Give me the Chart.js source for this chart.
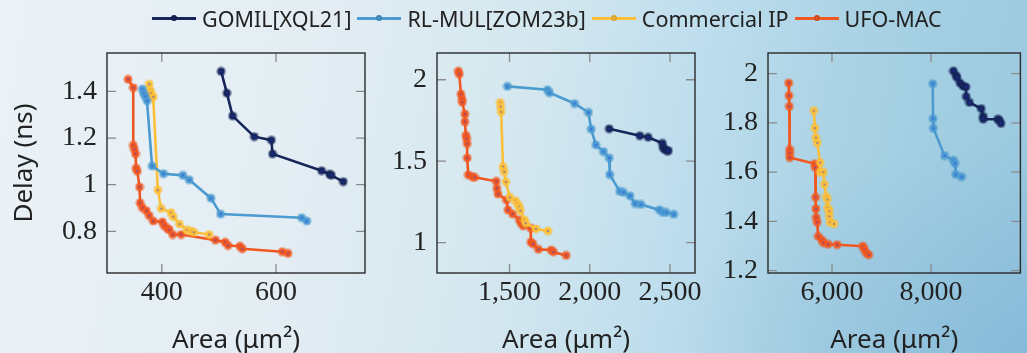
<!DOCTYPE html>
<html lang="en">
<head>
  <meta charset="UTF-8" />
  <title>Area vs Delay</title>
  <script src="https://cdn.jsdelivr.net/npm/chart.js"></script>
  <style>
    html, body {
      margin: 0;
      padding: 0;
    }
    body {
      width: 1027px;
      height: 353px;
      position: relative;
      overflow: hidden;
      background:
        radial-gradient(ellipse 360px 220px at 1027px 353px, rgba(100,160,205,0.35), rgba(100,160,205,0) 100%),
        linear-gradient(100deg, #eaf2f7 0%, #e3edf3 30%, #d4e7ef 50%, #bddded 66%, #a9d2e4 80%, #98c8df 100%);
      font-family: "Noto Sans", sans-serif;
    }
    canvas {
      position: absolute;
      top: 0;
    }
    #c1 { left: 0; }
    #c2 { left: 380px; }
    #c3 { left: 710px; }
    .legend {
      position: absolute;
      top: 4px;
      left: 152px;
      display: flex;
      align-items: center;
      font-size: 21.5px;
      color: #222;
      z-index: 2;
      white-space: nowrap;
    }
    .item {
      display: flex;
      align-items: center;
      margin-right: 6px;
    }
    .swatch {
      position: relative;
      width: 44px;
      height: 2.5px;
      margin-right: 6px;
    }
    .swatch::after {
      content: "";
      position: absolute;
      left: 19px;
      top: -2.5px;
      width: 6px;
      height: 6px;
      border-radius: 50%;
      background: inherit;
      box-shadow: inset 0 0 0 2px rgba(0,0,0,0.15);
    }
  </style>
</head>
<body>
  <div class="legend">
    <div class="item"><span class="swatch" style="background:#16255a"></span>GOMIL[XQL21]</div>
    <div class="item"><span class="swatch" style="background:#4b9ad0"></span>RL-MUL[ZOM23b]</div>
    <div class="item"><span class="swatch" style="background:#fbbf3a"></span>Commercial IP</div>
    <div class="item"><span class="swatch" style="background:#f05822"></span>UFO-MAC</div>
  </div>

  <canvas id="c1" width="380" height="353"></canvas>
  <canvas id="c2" width="330" height="353"></canvas>
  <canvas id="c3" width="317" height="353"></canvas>

  <script>
    const seriesNames = ['GOMIL[XQL21]', 'RL-MUL[ZOM23b]', 'Commercial IP', 'UFO-MAC'];
    const seriesColors = ['#16255a', '#4b9ad0', '#fbbf3a', '#f05822'];

    // panel 1: [area, delay]
    const gomil1 = [[504,1.486],[514,1.393],[524,1.295],[562,1.206],[592,1.191],[594,1.132],[680,1.06],[694,1.045],[697,1.04],[718,1.013]];
    const rlmul1 = [[366,1.41],[368,1.393],[371,1.379],[374,1.36],[383,1.08],[403,1.047],[437,1.04],[448,1.021],[486,0.942],[503,0.874],[645,0.858],[654,0.844]];
    const comm1 = [[378,1.431],[380,1.404],[381,1.393],[385,1.377],[393,0.977],[399,0.898],[416,0.88],[420,0.863],[431,0.831],[444,0.806],[451,0.8],[456,0.796],[483,0.786]];
    const ufo1 = [[341,1.452],[350,1.416],[350,1.169],[352,1.152],[354,1.132],[355,1.071],[357,1.058],[361,0.99],[362,0.922],[366,0.901],[373,0.888],[378,0.867],[385,0.844],[401,0.84],[404,0.824],[410,0.812],[413,0.806],[419,0.786],[434,0.786],[494,0.762],[511,0.753],[516,0.739],[537,0.736],[541,0.725],[611,0.712],[621,0.705]];

    // panel 2
    const gomil2 = [[2121,1.699],[2312,1.656],[2364,1.647],[2453,1.61],[2457,1.586],[2465,1.573],[2480,1.565],[2490,1.564]];
    const rlmul2 = [[1487,1.959],[1737,1.938],[1749,1.92],[1905,1.854],[1992,1.799],[2009,1.697],[2038,1.6],[2085,1.559],[2121,1.52],[2125,1.418],[2187,1.315],[2210,1.309],[2251,1.287],[2283,1.24],[2318,1.235],[2434,1.201],[2455,1.186],[2476,1.186],[2523,1.174]];
    const comm2 = [[1442,1.86],[1444,1.834],[1448,1.803],[1459,1.467],[1467,1.436],[1477,1.373],[1502,1.278],[1537,1.258],[1550,1.238],[1560,1.221],[1568,1.197],[1593,1.14],[1600,1.12],[1664,1.084],[1739,1.072]];
    const ufo2 = [[1181,2.053],[1187,2.034],[1197,1.912],[1204,1.881],[1205,1.862],[1222,1.789],[1222,1.742],[1228,1.658],[1232,1.639],[1236,1.608],[1236,1.52],[1243,1.416],[1267,1.406],[1282,1.401],[1417,1.377],[1421,1.334],[1428,1.299],[1481,1.262],[1490,1.201],[1519,1.176],[1562,1.14],[1571,1.121],[1585,1.103],[1631,1.09],[1633,1.004],[1646,0.992],[1680,0.959],[1760,0.955],[1774,0.943],[1853,0.922]];

    // panel 3
    const gomil3 = [[8450,2.011],[8503,1.993],[8523,1.984],[8583,1.962],[8643,1.95],[8702,1.946],[8709,1.907],[8774,1.883],[9012,1.858],[9052,1.826],[9052,1.815],[9344,1.815],[9378,1.81],[9410,1.798]];
    const rlmul3 = [[8033,1.959],[8039,1.817],[8046,1.778],[8271,1.667],[8450,1.648],[8483,1.635],[8496,1.591],[8615,1.581]];
    const comm3 = [[5634,1.85],[5654,1.779],[5674,1.74],[5702,1.719],[5762,1.639],[5762,1.6],[5827,1.6],[5847,1.55],[5887,1.501],[5907,1.489],[5913,1.455],[5946,1.441],[5946,1.42],[5960,1.396],[6040,1.39]];
    const ufo3 = [[5126,1.962],[5132,1.911],[5138,1.867],[5146,1.692],[5146,1.677],[5146,1.659],[5654,1.634],[5662,1.619],[5668,1.498],[5674,1.451],[5682,1.415],[5702,1.396],[5722,1.339],[5793,1.325],[5827,1.313],[5921,1.307],[6105,1.305],[6622,1.299],[6656,1.286],[6695,1.271],[6741,1.264]];

    // tick labels
    const xTicks1 = [400, 600];
    const yTicks1 = [0.8, 1, 1.2, 1.4];
    const xTicks2 = [1500, 2000, 2500];
    const yTicks2 = [1, 1.5, 2];
    const xTicks3 = [6000, 8000];
    const yTicks3 = [1.2, 1.4, 1.6, 1.8, 2];

    // point marker: coloured disc with halo and small blue centre
    function marker(color) {
      const c = document.createElement('canvas');
      c.width = 10; c.height = 10;
      const g = c.getContext('2d');
      g.globalAlpha = 0.45;
      g.fillStyle = color;
      g.beginPath(); g.arc(5, 5, 4.8, 0, Math.PI * 2); g.fill();
      g.globalAlpha = 1;
      g.beginPath(); g.arc(5, 5, 3.4, 0, Math.PI * 2); g.fill();
      g.fillStyle = '#2233ee';
      g.fillRect(4.4, 4.4, 1.3, 1.3);
      return c;
    }

    const frame = {
      id: 'frame',
      beforeDatasetsDraw(chart) {
        const { ctx, chartArea: a, scales } = chart;
        ctx.save();
        ctx.strokeStyle = '#8a8a8a';
        ctx.lineWidth = 1.3;
        ctx.beginPath();
        scales.x.ticks.forEach(t => {
          const px = scales.x.getPixelForValue(t.value);
          ctx.moveTo(px, a.bottom); ctx.lineTo(px, a.bottom - 9);
          ctx.moveTo(px, a.top); ctx.lineTo(px, a.top + 9);
        });
        scales.y.ticks.forEach(t => {
          const py = scales.y.getPixelForValue(t.value);
          ctx.moveTo(a.left, py); ctx.lineTo(a.left + 9, py);
          ctx.moveTo(a.right, py); ctx.lineTo(a.right - 9, py);
        });
        ctx.stroke();
        ctx.restore();
      },
      afterDatasetsDraw(chart) {
        const { ctx, chartArea: a } = chart;
        ctx.save();
        ctx.strokeStyle = '#2a2a2a';
        ctx.lineWidth = 1.4;
        ctx.strokeRect(a.left, a.top, a.right - a.left, a.bottom - a.top);
        ctx.restore();
      }
    };

    function fixSize(size) {
      return s => {
        if (s.isHorizontal()) s.height = size; else s.width = size;
        s.paddingTop = s.paddingBottom = s.paddingLeft = s.paddingRight = 0;
      };
    }

    const tickFont = { family: "'Liberation Serif', 'DejaVu Serif', serif", size: 28 };
    const titleFont = { family: "'Noto Sans', sans-serif", size: 26 };

    function panel(id, series, xr, yr, xTicks, yTicks, yWidth, padRight, yTitle) {
      new Chart(document.getElementById(id), {
        type: 'line',
        data: {
          datasets: series.map((pts, i) => ({
            label: seriesNames[i],
            data: pts.map(p => ({ x: p[0], y: p[1] })),
            borderColor: seriesColors[i],
            borderWidth: 2.6,
            pointStyle: marker(seriesColors[i]),
            tension: 0
          }))
        },
        options: {
          responsive: false,
          animation: false,
          layout: { padding: { top: 53, right: padRight, bottom: 0, left: 0 } },
          plugins: { legend: { display: false }, tooltip: { enabled: false } },
          scales: {
            x: {
              type: 'linear',
              min: xr[0], max: xr[1],
              afterBuildTicks: s => { s.ticks = xTicks.map(v => ({ value: v })); },
              afterFit: fixSize(80),
              grid: { display: false, drawTicks: false },
              border: { display: false },
              ticks: {
                font: tickFont, color: '#222', padding: 3, maxRotation: 0,
                callback: v => v.toLocaleString('en-US')
              },
              title: { display: true, text: 'Area (μm²)', font: titleFont, color: '#222', padding: { top: 0, bottom: -3 } }
            },
            y: {
              min: yr[0], max: yr[1],
              afterBuildTicks: s => { s.ticks = yTicks.map(v => ({ value: v })); },
              afterFit: fixSize(yWidth),
              grid: { display: false, drawTicks: false },
              border: { display: false },
              ticks: {
                font: tickFont, color: '#222', padding: 10,
                callback: v => v.toLocaleString('en-US')
              },
              title: { display: !!yTitle, text: yTitle || '', font: titleFont, color: '#222', padding: { top: 9, bottom: 0 } }
            }
          }
        },
        plugins: [frame]
      });
    }

    panel('c1', [gomil1, rlmul1, comm1, ufo1], [304, 756], [0.621, 1.565], xTicks1, yTicks1, 107, 15, 'Delay (ns)');
    panel('c2', [gomil2, rlmul2, comm2, ufo2], [1048, 2656], [0.814, 2.164], xTicks2, yTicks2, 57, 15);
    panel('c3', [gomil3, rlmul3, comm3, ufo3], [4709, 9802], [1.19, 2.084], xTicks3, yTicks3, 58, 3);
  </script>
</body>
</html>
